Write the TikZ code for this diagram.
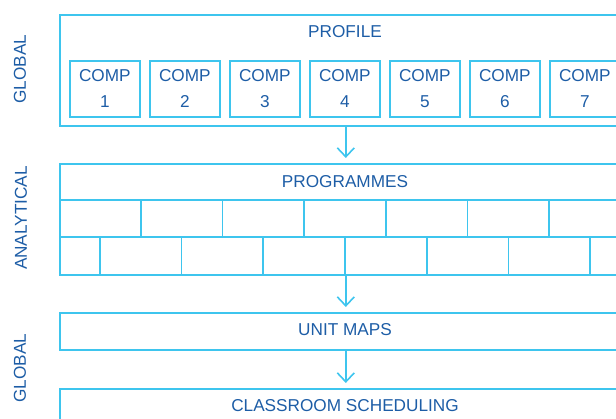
\documentclass[tikz,border=0pt]{standalone}
\usepackage{fontspec}
\setmainfont{Liberation Sans}
\usetikzlibrary{arrows.meta}
\definecolor{lineblue}{HTML}{3EC5EE}
\definecolor{textblue}{HTML}{1D5DA6}
\tikzset{
  box/.style={draw=lineblue, line width=1.6pt, inner sep=0pt, anchor=north west},
  lbl/.style={text=textblue, font=\fontsize{17.2}{25}\selectfont, inner sep=0pt},
  side/.style={lbl, rotate=90},
  flow/.style={draw=lineblue, line width=1.6pt, -{Straight Barb[length=9pt,width=17pt,line width=1.6pt]}, shorten >=5pt},
  brick/.style={draw=lineblue, line width=1.6pt}
}
\begin{document}
\begin{tikzpicture}[x=1pt,y=-1pt]
\useasboundingbox (0,0) rectangle (616,419);
\clip (0,0) rectangle (616,419);
% side labels
\node[side] (g1) at (20,69) {GLOBAL};
\node[side] (an) at (21,218) {ANALYTICAL};
\node[side] (g2) at (20,368) {GLOBAL};
% profile
\node[box, minimum width=572pt, minimum height=111pt] (profile) at (59,14) {};
\node[lbl] (proft) at (345,32) {PROFILE};
\foreach \i in {1,...,7}{
  \node[box, minimum width=70pt, minimum height=56pt] (c\i) at ({69+80*(\i-1)},60) {};
  \node[lbl, align=center] (ct\i) at ([yshift=0.5pt]c\i.center) {COMP\\[1pt]\i};
}
% programmes
\node[box, minimum width=572pt, minimum height=111pt] (prog) at (59,163) {};
\node[lbl] (progt) at (345,181.5) {PROGRAMMES};
\draw[brick] (59,200) -- (631,200);
\draw[brick] (59,237) -- (631,237);
\foreach \k in {1,...,6}{
  \draw[brick] ({59+81.714*\k},200) -- ({59+81.714*\k},237);
}
\foreach \k in {0,...,6}{
  \draw[brick] ({59+40.857+81.714*\k},237) -- ({59+40.857+81.714*\k},274);
}
% unit maps
\node[box, minimum width=572pt, minimum height=37pt] (unit) at (59,312) {};
\node[lbl] (unitt) at (345,329.5) {UNIT MAPS};
% classroom scheduling
\node[box, minimum width=572pt, minimum height=37pt] (class) at (59,388) {};
\node[lbl] (classt) at (345,406) {CLASSROOM SCHEDULING};
% arrows
\draw[flow] (profile.south) -- (prog.north);
\draw[flow] (prog.south) -- (unit.north);
\draw[flow] (unit.south) -- (class.north);
\end{tikzpicture}
\end{document}
